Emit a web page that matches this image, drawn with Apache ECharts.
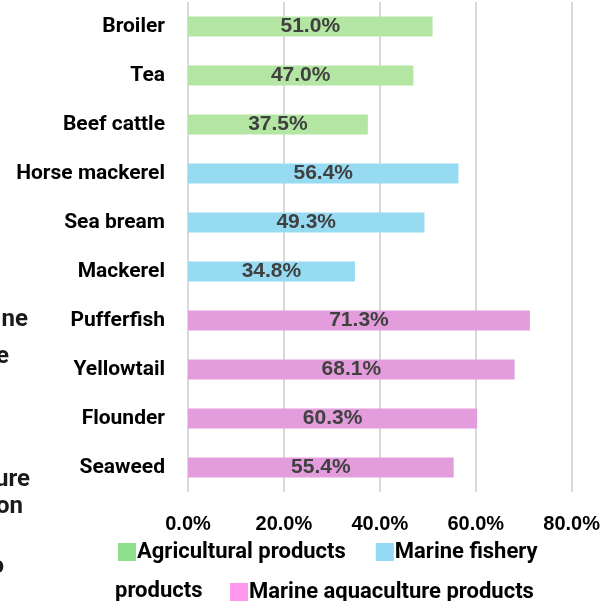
<!DOCTYPE html>
<html>
<head>
<meta charset="utf-8">
<script src="https://cdn.jsdelivr.net/npm/echarts@6/dist/echarts.min.js"></script>
<style>html,body{margin:0;padding:0;background:#fff;}#c{width:603px;height:601px;}</style>
</head>
<body>
<div id="c"></div>
<script>
var categories = ['Broiler','Tea','Beef cattle','Horse mackerel','Sea bream','Mackerel','Pufferfish','Yellowtail','Flounder','Seaweed'];
var agricultural = [51.0, 47.0, 37.5, null, null, null, null, null, null, null];
var marineFishery = [null, null, null, 56.4, 49.3, 34.8, null, null, null, null];
var marineAquaculture = [null, null, null, null, null, null, 71.3, 68.1, 60.3, 55.4];
var xTicks = [0, 20, 40, 60, 80];
var seriesNames = ['Agricultural products','Marine fishery products','Marine aquaculture products'];
var clippedText = ['ne', 'e', 'ure', 'on', 'o'];

var chart = echarts.init(document.getElementById('c'));
var labelCfg = {
  show: true, position: 'inside', color: '#404040',
  fontFamily: 'Liberation Sans', fontWeight: 'bold', fontSize: 21,
  formatter: function(p){ return p.value == null ? '' : p.value.toFixed(1) + '%'; }
};
function mk(name, data, color){
  return { name: name, type: 'bar', stack: 'all', data: data, barWidth: 20,
    itemStyle: { color: color }, label: labelCfg, silent: true };
}
var fragPos = [[28, 320], [9, 357], [30, 480], [23, 507], [4, 567]];
var graphics = [
  { type: 'text', x: 115, y: 591, style: { text: 'products', fill: '#000', font: 'bold 22px Roboto', verticalAlign: 'middle' } }
];
clippedText.forEach(function(t, i){
  graphics.push({ type: 'text', x: fragPos[i][0], y: fragPos[i][1],
    style: { text: t, fill: '#1a1a1a', font: 'bold 24px Roboto', align: 'right', verticalAlign: 'middle' } });
});
chart.setOption({
  animation: false,
  grid: { left: 188, right: 31, top: 2, bottom: 109, containLabel: false },
  xAxis: {
    type: 'value', min: xTicks[0], max: xTicks[xTicks.length-1], interval: 20,
    axisLine: { show: false }, axisTick: { show: false },
    splitLine: { show: true, lineStyle: { color: '#d9d9d9', width: 2 } },
    axisLabel: { margin: 22, color: '#000', fontFamily: 'Liberation Sans', fontWeight: 'bold', fontSize: 20,
      formatter: function(v){ return v.toFixed(1) + '%'; } }
  },
  yAxis: {
    type: 'category', data: categories, inverse: true,
    axisLine: { show: false }, axisTick: { show: false },
    axisLabel: { margin: 23, color: '#000', fontFamily: 'Roboto', fontWeight: 'bold', fontSize: 21 }
  },
  legend: [{
    left: 118, top: 541, padding: 0, itemWidth: 18, itemHeight: 18, itemGap: 30,
    icon: 'rect',
    textStyle: { color: '#000', fontFamily: 'Roboto', fontWeight: 'bold', fontSize: 22, padding: [0,0,0,-4] },
    formatter: function(n){ return n === 'Marine fishery products' ? 'Marine fishery' : n; },
    data: [
      { name: seriesNames[0], itemStyle: { color: '#8ee08e' } },
      { name: seriesNames[1], itemStyle: { color: '#93d8f5' } }
    ]
  }, {
    left: 230, top: 581, padding: 0, itemWidth: 18, itemHeight: 18,
    icon: 'rect',
    textStyle: { color: '#000', fontFamily: 'Roboto', fontWeight: 'bold', fontSize: 22, padding: [0,0,0,-4] },
    data: [ { name: seriesNames[2], itemStyle: { color: '#ff99ee' } } ]
  }],
  graphic: graphics,
  series: [
    mk(seriesNames[0], agricultural, '#b3e5a3'),
    mk(seriesNames[1], marineFishery, '#97dbf3'),
    mk(seriesNames[2], marineAquaculture, '#e39ddc')
  ]
});
</script>
</body>
</html>
